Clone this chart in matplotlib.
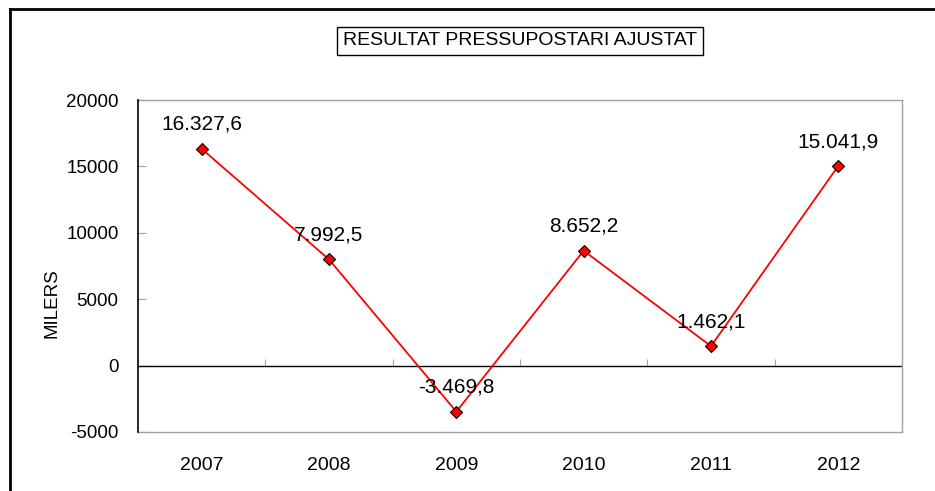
import matplotlib
matplotlib.use("Agg")
import matplotlib.pyplot as plt
from matplotlib.lines import Line2D

years = ["2007", "2008", "2009", "2010", "2011", "2012"]
resultat = [16327.6, 7992.5, -3469.8, 8652.2, 1462.1, 15041.9]
value_labels = ["16.327,6", "7.992,5", "-3.469,8", "8.652,2", "1.462,1", "15.041,9"]
y_ticks = [-5000, 0, 5000, 10000, 15000, 20000]

TITLE = "RESULTAT PRESSUPOSTARI AJUSTAT"
Y_LABEL = "MILERS"


def main() -> None:
    plt.rcParams["font.family"] = ["Liberation Sans", "DejaVu Sans"]

    fig = plt.figure(figsize=(9.35, 4.91), dpi=100)
    ax = fig.add_axes([0.1476, 0.1202, 0.8171, 0.6761])

    x = list(range(len(years)))
    ax.plot(x, resultat, color="#ff0000", linewidth=1.3, marker="D",
            markersize=6, markerfacecolor="#ff0000", markeredgecolor="black",
            markeredgewidth=0.8, zorder=4)

    for xi, val, lab in zip(x, resultat, value_labels):
        ax.annotate(lab, (xi, val), xytext=(0, 17.5), textcoords="offset points",
                    ha="center", va="center", fontsize=15, color="black", zorder=5)

    ax.set_xlim(-0.5, len(years) - 0.5)
    ax.set_ylim(-5000, 20000)
    ax.set_yticks(y_ticks)
    ax.set_yticklabels([str(v) for v in y_ticks])
    ax.set_xticks(x)
    ax.set_xticklabels(years)

    ax.tick_params(axis="y", direction="in", length=6, color="#a0a0a0",
                   labelsize=13.5, pad=14)
    ax.tick_params(axis="x", length=0, labelsize=14, pad=18)

    for side in ("top", "right", "bottom"):
        ax.spines[side].set_color("#a0a0a0")
        ax.spines[side].set_linewidth(1.0)
    ax.spines["left"].set_color("black")
    ax.spines["left"].set_linewidth(1.2)
    ax.spines["left"].set_zorder(6)

    # zero line with category boundary ticks
    ax.axhline(0, color="black", linewidth=1.0, zorder=2)
    zero_frac = (0 - y_ticks[0]) / (y_ticks[-1] - y_ticks[0])
    zero_axis = ax.secondary_xaxis(zero_frac)
    zero_axis.set_xticks([i + 0.5 for i in x[:-1]])
    zero_axis.tick_params(direction="in", length=5, color="#a0a0a0")
    zero_axis.set_xticklabels([])
    for sp in zero_axis.spines.values():
        sp.set_visible(False)

    ax.set_ylabel(Y_LABEL, fontsize=13.5)
    ax.yaxis.set_label_coords(-0.101, 0.389)

    fig.text(0.556, 0.9165, TITLE, ha="center", va="center", fontsize=14,
             bbox=dict(boxstyle="square,pad=0.3", facecolor="white",
                       edgecolor="black", linewidth=1.0))

    # outer chart frame (extends beyond the picture to the right and bottom)
    fx = 9.5 / 935
    fy = 1 - 8.5 / 491
    fig.add_artist(Line2D([fx, fx], [-0.1, fy], transform=fig.transFigure,
                          color="black", linewidth=2.0))
    fig.add_artist(Line2D([fx, 1.1], [fy, fy], transform=fig.transFigure,
                          color="black", linewidth=2.0))

    fig.savefig("out.png", dpi=100)
    plt.close(fig)


if __name__ == "__main__":
    main()
